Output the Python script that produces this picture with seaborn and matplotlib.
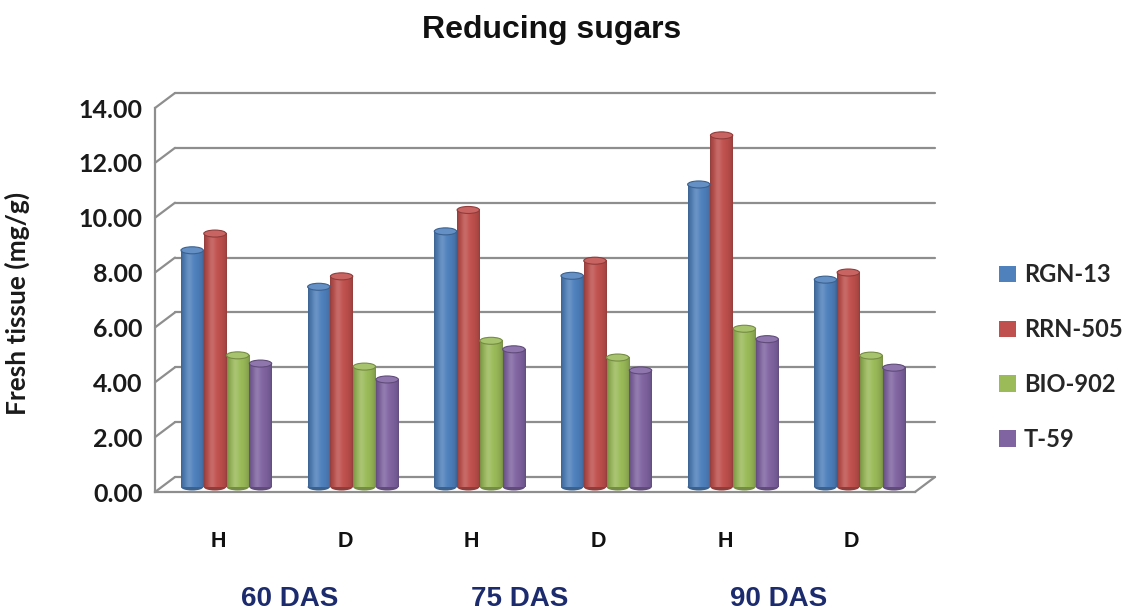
import numpy as np
import pandas as pd
import matplotlib
matplotlib.use("Agg")
import matplotlib.pyplot as plt
import matplotlib.transforms as mtransforms
from matplotlib.patches import Ellipse, Patch
import matplotlib.colors as mcolors
import seaborn as sns

# ---- data -------------------------------------------------------------
stages = ["60 DAS", "75 DAS", "90 DAS"]
conditions = ["H", "D"]
varieties = ["RGN-13", "RRN-505", "BIO-902", "T-59"]
rgn_13 = [8.63, 7.30, 9.32, 7.70, 11.03, 7.56]
rrn_505 = [9.24, 7.68, 10.10, 8.25, 12.82, 7.82]
bio_902 = [4.80, 4.39, 5.33, 4.72, 5.77, 4.79]
t_59 = [4.50, 3.92, 5.02, 4.25, 5.39, 4.35]
y_ticks = [0, 2, 4, 6, 8, 10, 12, 14]

colors = ["#4F81BD", "#C0504D", "#9BBB59", "#8064A2"]
grid_color = "#8E8E8E"
das_color = "#1C2B6E"

categories = [f"{s} {c}" for s in stages for c in conditions]
tick_labels = [c for s in stages for c in conditions]
series = [rgn_13, rrn_505, bio_902, t_59]

df = pd.DataFrame({
    "category": np.tile(categories, len(varieties)),
    "variety": np.repeat(varieties, len(categories)),
    "value": np.concatenate(series),
})

# ---- figure -----------------------------------------------------------
sns.set_style("white")
plt.rcParams["font.family"] = ["Lato", "DejaVu Sans"]

W, H = 1123, 613
fig = plt.figure(figsize=(W / 100, H / 100), dpi=100)
ax = fig.add_axes([155 / W, 1 - 492 / H, 760 / W, 384 / H])

sns.barplot(data=df, x="category", y="value", hue="variety",
            order=categories, hue_order=varieties, palette=colors,
            saturation=1, width=0.72, gap=0.02, errorbar=None,
            legend=False, ax=ax, zorder=3)

ax.set_xlim(-0.5, 5.5)
ax.set_ylim(0, 14)

# depth offsets of the pseudo-3D box (back wall) and of the bar row
back_off = mtransforms.ScaledTranslation(0.20, 0.15, fig.dpi_scale_trans)
bar_off = mtransforms.ScaledTranslation(0.08, 0.05, fig.dpi_scale_trans)
back_tr = ax.transData + back_off
bar_tr = ax.transData + bar_off

# back-wall gridlines
for y in y_ticks:
    ax.plot([-0.5, 5.5], [y, y], transform=back_tr, color=grid_color,
            lw=1.6, clip_on=False, zorder=1)

# side-wall / floor connectors between the front axis and the back wall
fig.canvas.draw()
inv = ax.transData.inverted()


def to_back(xd, yd):
    px, py = ax.transData.transform((xd, yd))
    return inv.transform((px + 20, py + 15))


for y in y_ticks:
    bx, by = to_back(-0.5, y)
    ax.plot([-0.5, bx], [y, by], color=grid_color, lw=1.6,
            clip_on=False, zorder=1)
bx, by = to_back(5.5, 0)
ax.plot([5.5, bx], [0, by], color=grid_color, lw=1.6, clip_on=False, zorder=1)

# cylinder shading for every bar
t = np.linspace(0, 1, 80)
shade = 0.74 + 0.26 * np.sin(np.pi * t) ** 0.5
highlight = 0.16 * np.exp(-((t - 0.35) / 0.16) ** 2)
px_per_unit = ax.transData.transform((0, 1))[1] - ax.transData.transform((0, 0))[1]
cap_h = 7 / px_per_unit

for cont, col in zip(ax.containers, colors):
    base = np.array(mcolors.to_rgb(col))
    rgb = base[None, :] * shade[:, None] + highlight[:, None] * (1 - base[None, :])
    img = np.clip(rgb, 0, 1)[None, :, :]
    dark = np.clip(base * 0.75, 0, 1)
    light = np.clip(base + (1 - base) * 0.12, 0, 1)
    for bar in cont:
        x0, w, h = bar.get_x(), bar.get_width(), bar.get_height()
        bar.set_transform(bar_tr)
        bar.set_clip_on(False)
        bar.set_edgecolor("none")
        ax.add_patch(Ellipse((x0 + w / 2, 0), w, cap_h, transform=bar_tr,
                             facecolor=dark, edgecolor="none",
                             zorder=2.9, clip_on=False))
        ax.imshow(img, extent=(x0, x0 + w, 0, h), aspect="auto",
                  transform=bar_tr, zorder=3.1, interpolation="bilinear",
                  clip_on=False)
        ax.add_patch(Ellipse((x0 + w / 2, h), w, cap_h, transform=bar_tr,
                             facecolor=light, edgecolor=dark, lw=0.8,
                             zorder=3.2, clip_on=False))

ax.set_xlim(-0.5, 5.5)
ax.set_ylim(0, 14)

# axes styling
for side in ["top", "right"]:
    ax.spines[side].set_visible(False)
for side in ["left", "bottom"]:
    ax.spines[side].set_color(grid_color)
    ax.spines[side].set_linewidth(1.6)
    ax.spines[side].set_zorder(1.5)

ax.set_yticks(y_ticks)
ax.set_yticklabels([f"{v:.2f}" for v in y_ticks],
                   fontsize=18, fontweight="bold", color="#1A1A1A")
ax.tick_params(axis="y", direction="out", length=5.8, width=1.5,
               color=grid_color, pad=3)
ax.set_xticks(range(len(categories)))
ax.set_xticklabels(tick_labels, fontsize=15.5, fontweight="bold",
                   family=["Liberation Sans", "DejaVu Sans"], color="#111111")
ax.tick_params(axis="x", length=0, pad=28)
ax.set_xlabel("")
ax.set_ylabel("Fresh tissue (mg/g)", fontsize=19, fontweight="bold",
              color="#1A1A1A")
ax.yaxis.set_label_coords(-0.164, 0.49)

# stage labels below the H/D pairs
das_x = [0.566, 2.38, 4.42]
label_tr = mtransforms.blended_transform_factory(ax.transData, ax.transAxes)
for xs, s in zip(das_x, stages):
    ax.text(xs, (492 - 606) / 384, s, transform=label_tr, ha="center",
            va="baseline", fontsize=20, fontweight="bold", color=das_color,
            family=["Liberation Sans", "DejaVu Sans"])

# title
fig.text(552 / W, 1 - 38 / H, "Reducing sugars", ha="center", va="baseline",
         fontsize=23, fontweight="bold", color="#111111",
         family=["Liberation Sans", "DejaVu Sans"])

# legend
handles = [Patch(facecolor=c, edgecolor="none") for c in colors]
ax.legend(handles, varieties, loc="center left",
          bbox_to_anchor=(999 / W, 1 - 357 / H), bbox_transform=fig.transFigure,
          frameon=False, prop={"weight": "bold", "size": 17},
          handlelength=0.7, handleheight=0.7, handletextpad=0.35,
          labelspacing=1.35, borderpad=0, borderaxespad=0)

fig.savefig("out.png", dpi=100)
